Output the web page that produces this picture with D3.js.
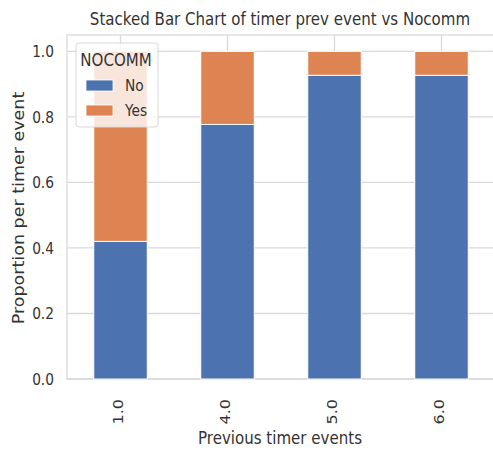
<!DOCTYPE html>
<html>
<head>
<meta charset="utf-8">
<script src="https://cdn.jsdelivr.net/npm/d3@7"></script>
<style>
  body { margin: 0; background: #fff; }
  svg { display: block; font-family: "DejaVu Sans", sans-serif; }
</style>
</head>
<body>
<div id="chart"></div>
<script>
const width = 493;
const height = 450;
const margin = { top: 35, right: -2, bottom: 71, left: 67 };
// the reference picture is squeezed sideways, so text is too
const squeeze = 0.86;

// data
const timerEvents = ["1.0", "4.0", "5.0", "6.0"];
const keys = ["No", "Yes"];
const noValues = [0.42, 0.777, 0.927, 0.927];
const yesValues = [0.58, 0.223, 0.073, 0.073];
const yTicks = [0, 0.2, 0.4, 0.6, 0.8, 1.0];

const colors = { No: "#4c72b0", Yes: "#dd8452" };
const textColor = "#333";
const gridColor = "#d9d9d9";

const rows = timerEvents.map((t, i) => ({ event: t, No: noValues[i], Yes: yesValues[i] }));

const svg = d3.select("#chart").append("svg")
	.attr("width", width)
	.attr("height", height);

const x = d3.scaleBand()
	.domain(timerEvents)
	.range([margin.left, width - margin.right])
	.paddingInner(0.5)
	.paddingOuter(0.25);

const y = d3.scaleLinear()
	.domain([0, 1.05])
	.range([height - margin.bottom, margin.top]);

const mid = d => x(d) + x.bandwidth() / 2;

// grid
svg.append("g")
	.selectAll("line")
	.data(yTicks)
	.join("line")
	.attr("x1", margin.left)
	.attr("x2", width - margin.right)
	.attr("y1", d => y(d))
	.attr("y2", d => y(d))
	.attr("stroke", gridColor)
	.attr("stroke-width", 1.3);

svg.append("g")
	.selectAll("line")
	.data(timerEvents)
	.join("line")
	.attr("x1", mid)
	.attr("x2", mid)
	.attr("y1", margin.top)
	.attr("y2", height - margin.bottom)
	.attr("stroke", gridColor)
	.attr("stroke-width", 1.3);

// frame
svg.append("rect")
	.attr("x", margin.left)
	.attr("y", margin.top)
	.attr("width", width - margin.right - margin.left)
	.attr("height", height - margin.bottom - margin.top)
	.attr("fill", "none")
	.attr("stroke", gridColor)
	.attr("stroke-width", 1.3);

// bars
const series = d3.stack().keys(keys)(rows);

svg.append("g")
	.selectAll("g")
	.data(series)
	.join("g")
	.attr("fill", d => colors[d.key])
	.selectAll("rect")
	.data(d => d)
	.join("rect")
	.attr("x", d => x(d.data.event))
	.attr("y", d => y(d[1]))
	.attr("width", x.bandwidth())
	.attr("height", d => y(d[0]) - y(d[1]))
	.attr("stroke", "#fff")
	.attr("stroke-width", 1);

// y tick labels
svg.append("g")
	.selectAll("text")
	.data(yTicks)
	.join("text")
	.attr("transform", d => `translate(54,${y(d)}) scale(${squeeze},1)`)
	.attr("dy", "0.35em")
	.attr("text-anchor", "end")
	.attr("font-size", 16)
	.attr("fill", textColor)
	.text(d => d.toFixed(1));

// x tick labels (rotated)
svg.append("g")
	.selectAll("text")
	.data(timerEvents)
	.join("text")
	.attr("transform", d => `translate(${mid(d)},${height - margin.bottom + 20}) scale(${squeeze},1) rotate(-90)`)
	.attr("dy", "0.15em")
	.attr("text-anchor", "end")
	.attr("font-size", 16)
	.attr("fill", textColor)
	.text(d => d);

// axis titles
svg.append("text")
	.attr("transform", `translate(${(margin.left + width) / 2},444) scale(${squeeze},1)`)
	.attr("text-anchor", "middle")
	.attr("font-size", 17.5)
	.attr("fill", textColor)
	.text("Previous timer events");

svg.append("text")
	.attr("transform", `translate(24,${(margin.top + height - margin.bottom) / 2 + 1}) scale(${squeeze},1) rotate(-90)`)
	.attr("text-anchor", "middle")
	.attr("font-size", 17.5)
	.attr("fill", textColor)
	.text("Proportion per timer event");

svg.append("text")
	.attr("transform", `translate(${(margin.left + width) / 2},25) scale(${squeeze},1)`)
	.attr("text-anchor", "middle")
	.attr("font-size", 17.5)
	.attr("fill", textColor)
	.text("Stacked Bar Chart of timer prev event vs Nocomm");

// legend
const legend = svg.append("g").attr("transform", "translate(76,43)");

legend.append("rect")
	.attr("width", 82)
	.attr("height", 84)
	.attr("rx", 3)
	.attr("fill", "#fff")
	.attr("fill-opacity", 0.8)
	.attr("stroke", "#d8d8d8");

legend.append("text")
	.attr("transform", `translate(40,23) scale(${squeeze},1)`)
	.attr("text-anchor", "middle")
	.attr("font-size", 17.5)
	.attr("fill", textColor)
	.text("NOCOMM");

const items = legend.selectAll("g.item")
	.data(keys)
	.join("g")
	.attr("class", "item")
	.attr("transform", (d, i) => `translate(10,${37 + i * 25})`);

items.append("rect")
	.attr("width", 27)
	.attr("height", 11)
	.attr("fill", d => colors[d])
	.attr("stroke", "#fff")
	.attr("stroke-width", 0.8);

items.append("text")
	.attr("transform", `translate(39,5.5) scale(${squeeze},1)`)
	.attr("dy", "0.35em")
	.attr("font-size", 16)
	.attr("fill", textColor)
	.text(d => d);
</script>
</body>
</html>
